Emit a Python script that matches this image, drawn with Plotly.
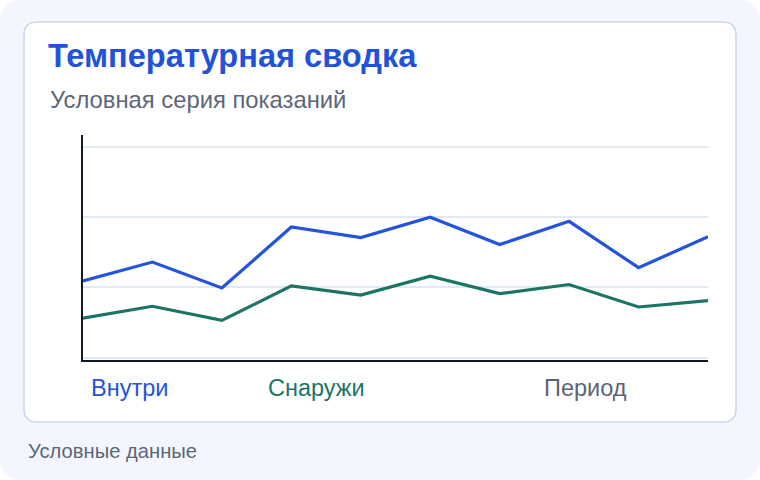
import plotly.graph_objects as go

periods = list(range(1, 11))
inside = [10.9, 13.6, 9.9, 18.6, 17.1, 20.0, 16.1, 19.4, 12.8, 17.2]
outside = [5.6, 7.3, 5.3, 10.2, 8.9, 11.6, 9.1, 10.4, 7.2, 8.1]
series_names = ["Внутри", "Снаружи"]
grid_ticks = [0, 10, 20, 30]

W, H = 760, 480
L, R, T, B = 83, 708, 135, 360

def px(x):
    return (x - L) / (R - L)

def py(y):
    return (B - y) / (B - T)

def rounded(x0, y0, x1, y1, r):
    pts = [
        f"M {px(x0 + r)},{py(y0)}",
        f"L {px(x1 - r)},{py(y0)}",
        f"Q {px(x1)},{py(y0)} {px(x1)},{py(y0 + r)}",
        f"L {px(x1)},{py(y1 - r)}",
        f"Q {px(x1)},{py(y1)} {px(x1 - r)},{py(y1)}",
        f"L {px(x0 + r)},{py(y1)}",
        f"Q {px(x0)},{py(y1)} {px(x0)},{py(y1 - r)}",
        f"L {px(x0)},{py(y0 + r)}",
        f"Q {px(x0)},{py(y0)} {px(x0 + r)},{py(y0)}",
        "Z",
    ]
    return " ".join(pts)

BLUE = "#2453dc"
TEAL = "#1a7566"
GRAY = "#5b6678"

fig = go.Figure()
fig.add_trace(go.Scatter(x=periods, y=inside, mode="lines", name=series_names[0],
                         line=dict(color=BLUE, width=3.2), showlegend=False))
fig.add_trace(go.Scatter(x=periods, y=outside, mode="lines", name=series_names[1],
                         line=dict(color=TEAL, width=3.2), showlegend=False))

shapes = [
    dict(type="path", xref="paper", yref="paper", layer="below",
         path=rounded(0, 0, W, H, 24), fillcolor="#f3f6fe", line=dict(width=0)),
    dict(type="path", xref="paper", yref="paper", layer="below",
         path=rounded(24, 22, 736, 422, 13), fillcolor="#ffffff",
         line=dict(color="#cbd8ea", width=1.6)),
]

font_main = "Liberation Sans, Arial, sans-serif"
annotations = [
    dict(text="<b>Температурная сводка</b>", x=px(46), y=py(56), xref="paper", yref="paper",
         xanchor="left", yanchor="middle", showarrow=False,
         font=dict(size=32.6, color="#2352d8", family=font_main)),
    dict(text="Условная серия показаний", x=px(48), y=py(99), xref="paper", yref="paper",
         xanchor="left", yanchor="middle", showarrow=False,
         font=dict(size=23.8, color=GRAY, family=font_main)),
    dict(text=series_names[0], x=px(89), y=py(388), xref="paper", yref="paper",
         xanchor="left", yanchor="middle", showarrow=False,
         font=dict(size=23.5, color=BLUE, family=font_main)),
    dict(text=series_names[1], x=px(266), y=py(388), xref="paper", yref="paper",
         xanchor="left", yanchor="middle", showarrow=False,
         font=dict(size=23.5, color=TEAL, family=font_main)),
    dict(text="Период", x=px(542), y=py(388), xref="paper", yref="paper",
         xanchor="left", yanchor="middle", showarrow=False,
         font=dict(size=23.5, color=GRAY, family=font_main)),
    dict(text="Условные данные", x=px(26), y=py(451), xref="paper", yref="paper",
         xanchor="left", yanchor="middle", showarrow=False,
         font=dict(size=20.2, color=GRAY, family=font_main)),
]

fig.update_layout(
    width=W, height=H,
    margin=dict(l=L, r=W - R, t=T, b=H - B, pad=0),
    paper_bgcolor="#ffffff", plot_bgcolor="rgba(0,0,0,0)",
    shapes=shapes, annotations=annotations,
    showlegend=False,
)
fig.update_xaxes(range=[1, 10], showgrid=False, zeroline=False, showticklabels=False,
                 ticks="", showline=True, linecolor="#111827", linewidth=2)
fig.update_yaxes(range=[-0.35, 31.7], tickvals=grid_ticks, showgrid=True, gridcolor="#e2e9f4",
                 gridwidth=1.5, zeroline=False, showticklabels=False, ticks="",
                 showline=True, linecolor="#111827", linewidth=2)

fig.write_html("out.html", config={"displayModeBar": False},
               post_script="document.body.style.margin='0';")
